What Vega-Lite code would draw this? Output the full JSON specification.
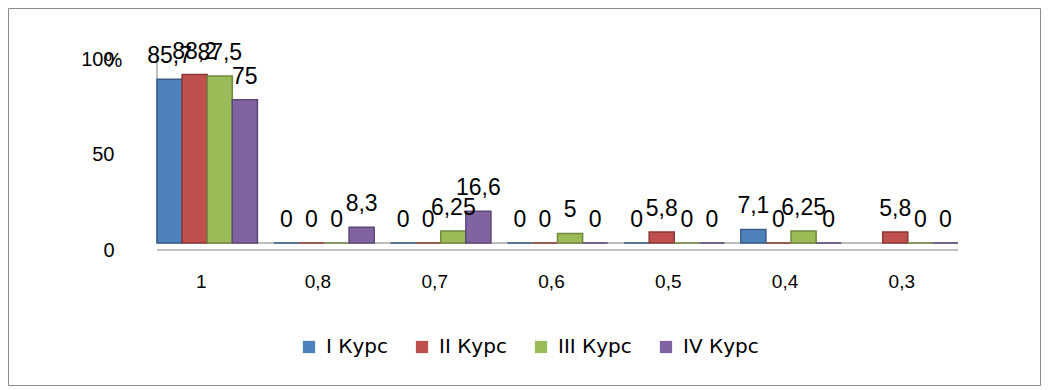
{
  "$schema": "https://vega.github.io/schema/vega-lite/v6.json",
  "width": 1048,
  "height": 390,
  "autosize": {"type": "fit", "contains": "padding"},
  "padding": {"left": 8, "top": 8, "right": 8, "bottom": 5},
  "background": "white",
  "config": {
    "font": "Liberation Sans",
    "locale": {"number": {"decimal": ",", "thousands": "\u00a0", "grouping": [3], "currency": ["", ""]}},
    "view": {"stroke": "#8c8c8c", "strokeWidth": 1}
  },
  "data": {
    "values": [
      {"k": "1", "s": "I Курс", "v": 85.7},
      {"k": "1", "s": "II Курс", "v": 88.2},
      {"k": "1", "s": "III Курс", "v": 87.5},
      {"k": "1", "s": "IV Курс", "v": 75},
      {"k": "0,8", "s": "I Курс", "v": 0},
      {"k": "0,8", "s": "II Курс", "v": 0},
      {"k": "0,8", "s": "III Курс", "v": 0},
      {"k": "0,8", "s": "IV Курс", "v": 8.3},
      {"k": "0,7", "s": "I Курс", "v": 0},
      {"k": "0,7", "s": "II Курс", "v": 0},
      {"k": "0,7", "s": "III Курс", "v": 6.25},
      {"k": "0,7", "s": "IV Курс", "v": 16.6},
      {"k": "0,6", "s": "I Курс", "v": 0},
      {"k": "0,6", "s": "II Курс", "v": 0},
      {"k": "0,6", "s": "III Курс", "v": 5},
      {"k": "0,6", "s": "IV Курс", "v": 0},
      {"k": "0,5", "s": "I Курс", "v": 0},
      {"k": "0,5", "s": "II Курс", "v": 5.8},
      {"k": "0,5", "s": "III Курс", "v": 0},
      {"k": "0,5", "s": "IV Курс", "v": 0},
      {"k": "0,4", "s": "I Курс", "v": 7.1},
      {"k": "0,4", "s": "II Курс", "v": 0},
      {"k": "0,4", "s": "III Курс", "v": 6.25},
      {"k": "0,4", "s": "IV Курс", "v": 0},
      {"k": "0,3", "s": "II Курс", "v": 5.8},
      {"k": "0,3", "s": "III Курс", "v": 0},
      {"k": "0,3", "s": "IV Курс", "v": 0}
    ]
  },
  "encoding": {
    "x": {
      "field": "k",
      "type": "nominal",
      "sort": ["1", "0,8", "0,7", "0,6", "0,5", "0,4", "0,3"],
      "scale": {"range": [149, 950], "paddingInner": 0.14, "paddingOuter": 0},
      "axis": {
        "title": null,
        "orient": "bottom",
        "offset": -119,
        "domain": false,
        "ticks": false,
        "labelAngle": 0,
        "labelPadding": 6,
        "labelOffset": -6,
        "labelFontSize": 19,
        "labelColor": "#000000",
        "labelFont": "Liberation Sans"
      }
    },
    "y": {
      "field": "v",
      "type": "quantitative",
      "scale": {"domain": [0, 100], "range": [235, 44], "nice": false, "zero": false},
      "axis": {
        "values": [0, 50, 100],
        "offset": -110,
        "domain": false,
        "ticks": false,
        "grid": false,
        "labelPadding": 4,
        "labelOffset": 7,
        "labelFontSize": 20,
        "labelColor": "#000000",
        "title": "%",
        "titleAngle": 0,
        "titleFontSize": 20,
        "titleFontWeight": "normal",
        "titleColor": "#000000",
        "titleAlign": "left",
        "titleBaseline": "middle",
        "titleX": -14,
        "titleY": 52
      }
    }
  },
  "layer": [
    {
      "mark": {"type": "rule", "color": "#bfbfbf", "strokeWidth": 1.5},
      "encoding": {
        "x": {"datum": "1", "bandPosition": 0},
        "y": {"datum": 0},
        "y2": {"datum": 100}
      }
    },
    {
      "mark": {"type": "rule", "color": "#bfbfbf", "strokeWidth": 1.5},
      "encoding": {
        "x": {"datum": "1", "bandPosition": 0},
        "x2": {"datum": "0,3", "bandPosition": 1},
        "y": {"datum": 0}
      }
    },
    {
      "mark": {"type": "rule", "color": "#bfbfbf", "strokeWidth": 1.5},
      "encoding": {
        "x": {"datum": "1", "bandPosition": 0},
        "x2": {"datum": "0,3", "bandPosition": 1},
        "y": {"datum": -3.5}
      }
    },
    {
      "mark": {"type": "bar", "strokeWidth": 1.5},
      "encoding": {
        "xOffset": {
          "field": "s",
          "sort": ["I Курс", "II Курс", "III Курс", "IV Курс"],
          "scale": {"paddingInner": 0, "paddingOuter": 0}
        },
        "color": {
          "field": "s",
          "type": "nominal",
          "sort": ["I Курс", "II Курс", "III Курс", "IV Курс"],
          "scale": {"range": ["#4f81bd", "#c0504d", "#9bbb59", "#8064a2"]},
          "legend": {
            "title": null,
            "orient": "none",
            "direction": "horizontal",
            "legendX": 291,
            "legendY": 329,
            "symbolType": "square",
            "symbolSize": 150,
            "symbolStrokeWidth": 0,
            "labelFont": "DejaVu Sans",
            "labelFontSize": 20,
            "labelColor": "#000000",
            "labelOffset": 7,
            "columnPadding": 24
          }
        },
        "stroke": {
          "field": "s",
          "type": "nominal",
          "sort": ["I Курс", "II Курс", "III Курс", "IV Курс"],
          "scale": {"range": ["#385d8a", "#8c3836", "#71893f", "#5c4776"]},
          "legend": null
        }
      }
    },
    {
      "mark": {"type": "text", "baseline": "bottom", "dy": -11, "fontSize": 23, "color": "#000000"},
      "encoding": {
        "xOffset": {
          "field": "s",
          "sort": ["I Курс", "II Курс", "III Курс", "IV Курс"],
          "scale": {"paddingInner": 0, "paddingOuter": 0}
        },
        "text": {"field": "v", "type": "quantitative", "format": ".4~g"}
      }
    }
  ]
}
